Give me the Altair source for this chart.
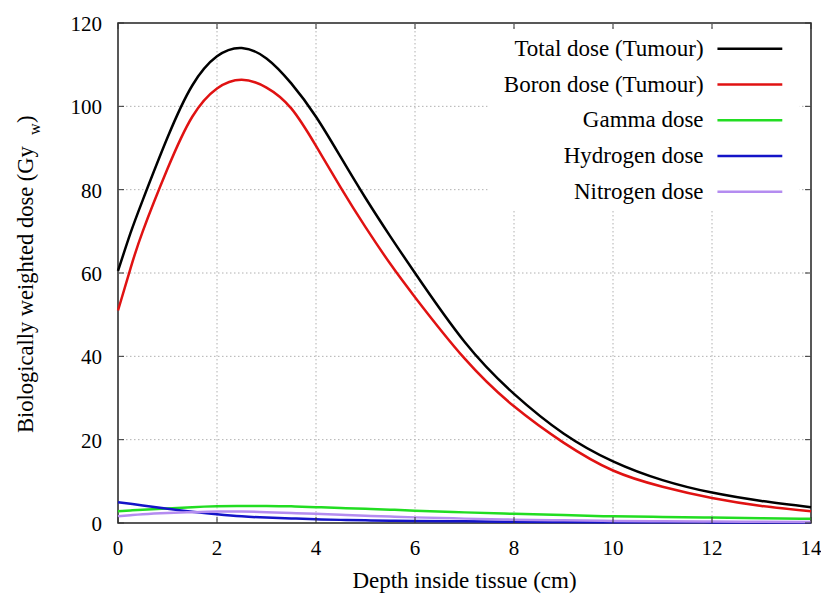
import altair as alt
import pandas as pd

# ---- data ----
DEPTH = [0, 0.25, 0.5, 1, 1.5, 2, 2.5, 3, 3.5, 4, 4.5, 5, 5.5, 6, 7, 8, 9, 10, 11, 12, 13, 14]
TOTAL = [60.5, 69.5, 77.5, 92.5, 105, 112, 114, 111.5, 105.5, 97.5, 87.8, 78, 68.8, 60, 43.5, 31, 21.5, 14.8, 10.3, 7.3, 5.3, 3.8]
BORON = [51, 61, 70, 85, 97.5, 104.3, 106.4, 104.5, 99.5, 90.5, 80.5, 71, 62.2, 54.2, 39.5, 28, 19.3, 12.6, 8.7, 6.0, 4.1, 2.8]
GAMMA = [2.8, 3.0, 3.2, 3.5, 3.8, 4.0, 4.1, 4.1, 4.0, 3.8, 3.6, 3.4, 3.2, 2.95, 2.55, 2.2, 1.9, 1.6, 1.45, 1.3, 1.15, 1.0]
HYDROGEN = [5.0, 4.6, 4.2, 3.4, 2.7, 2.1, 1.6, 1.3, 1.1, 0.9, 0.75, 0.65, 0.55, 0.5, 0.4, 0.3, 0.25, 0.2, 0.18, 0.15, 0.12, 0.1]
NITROGEN = [1.6, 1.85, 2.1, 2.4, 2.6, 2.75, 2.75, 2.6, 2.4, 2.2, 2.0, 1.75, 1.55, 1.35, 1.05, 0.8, 0.65, 0.5, 0.4, 0.35, 0.3, 0.25]

SERIES = ["Total dose (Tumour)", "Boron dose (Tumour)", "Gamma dose", "Hydrogen dose", "Nitrogen dose"]
COLORS = ["#000000", "#e01212", "#22dd22", "#1414c8", "#b48cf0"]
X_TICKS = [0, 2, 4, 6, 8, 10, 12, 14]
Y_TICKS = [0, 20, 40, 60, 80, 100, 120]

X_TITLE = "Depth inside tissue (cm)"
Y_TITLE_MAIN = "Biologically weighted dose (Gy"
Y_TITLE_SUB = "w"
Y_TITLE_END = ")"

# ---- tables ----
rows = []
for name, vals in zip(SERIES, [TOTAL, BORON, GAMMA, HYDROGEN, NITROGEN]):
    for d, v in zip(DEPTH, vals):
        rows.append({"series": name, "depth": d, "dose": v})
df = pd.DataFrame(rows)

W, H = 693, 500
FONT = "Liberation Serif"
XMIN, XMAX, YMIN, YMAX = 0, 14, 0, 120

# legend placed inside the plot (data coordinates)
LEG_TOP, LEG_STEP = 113.8, 8.57
leg = pd.DataFrame({
    "series": SERIES,
    "y": [LEG_TOP - i * LEG_STEP for i in range(len(SERIES))],
    "xt": [11.83] * len(SERIES),
    "x0": [12.11] * len(SERIES),
    "x1": [13.42] * len(SERIES),
})
legbox = pd.DataFrame({"x0": [7.47], "x1": [13.77], "y0": [75.2], "y1": [118.4]})

# inward tick marks on all four sides (6 px long)
TL_X = 6 * (XMAX - XMIN) / W
TL_Y = 6 * (YMAX - YMIN) / H
tick_rows = []
for t in X_TICKS:
    tick_rows.append({"x": t, "x2": t, "y": YMIN, "y2": YMIN + TL_Y})
    tick_rows.append({"x": t, "x2": t, "y": YMAX, "y2": YMAX - TL_Y})
for t in Y_TICKS:
    tick_rows.append({"x": XMIN, "x2": XMIN + TL_X, "y": t, "y2": t})
    tick_rows.append({"x": XMAX, "x2": XMAX - TL_X, "y": t, "y2": t})
ticks = pd.DataFrame(tick_rows)

xt_df = pd.DataFrame({"v": X_TICKS, "lab": [str(t) for t in X_TICKS]})
yt_df = pd.DataFrame({"v": Y_TICKS, "lab": [str(t) for t in Y_TICKS]})
xgrid = pd.DataFrame({"v": [t for t in X_TICKS if XMIN < t < XMAX]})
ygrid = pd.DataFrame({"v": [t for t in Y_TICKS if YMIN < t < YMAX]})

xscale = alt.Scale(domain=[XMIN, XMAX], nice=False, zero=False)
yscale = alt.Scale(domain=[YMIN, YMAX], nice=False, zero=False)
color = alt.Color("series:N", scale=alt.Scale(domain=SERIES, range=COLORS), legend=None)

GRID = dict(color="#b0b0b0", strokeWidth=1, strokeDash=[1.5, 2.5])

grid_x = alt.Chart(xgrid).mark_rule(**GRID).encode(
    x=alt.X("v:Q", scale=xscale, axis=None), y=alt.value(0), y2=alt.value(H))
grid_y = alt.Chart(ygrid).mark_rule(**GRID).encode(
    y=alt.Y("v:Q", scale=yscale, axis=None), x=alt.value(0), x2=alt.value(W))

lines = alt.Chart(df).mark_line(interpolate="natural", strokeWidth=2.5).encode(
    x=alt.X("depth:Q", scale=xscale, axis=None),
    y=alt.Y("dose:Q", scale=yscale, axis=None),
    color=color,
)

box = alt.Chart(legbox).mark_rect(fill="white").encode(
    x=alt.X("x0:Q", scale=xscale, axis=None),
    x2="x1:Q",
    y=alt.Y("y0:Q", scale=yscale, axis=None),
    y2="y1:Q",
)

tick_marks = alt.Chart(ticks).mark_rule(color="#333333", strokeWidth=1).encode(
    x=alt.X("x:Q", scale=xscale, axis=None),
    x2="x2:Q",
    y=alt.Y("y:Q", scale=yscale, axis=None),
    y2="y2:Q",
)

leg_rules = alt.Chart(leg).mark_rule(strokeWidth=2.5).encode(
    x=alt.X("x0:Q", scale=xscale, axis=None),
    x2="x1:Q",
    y=alt.Y("y:Q", scale=yscale, axis=None),
    color=color,
)

leg_text = alt.Chart(leg).mark_text(align="right", baseline="middle", font=FONT, fontSize=23,
                                     color="black").encode(
    x=alt.X("xt:Q", scale=xscale, axis=None),
    y=alt.Y("y:Q", scale=yscale, axis=None),
    text="series:N",
)

x_labels = alt.Chart(xt_df).mark_text(align="center", baseline="alphabetic", font=FONT, fontSize=21,
                                      color="black").encode(
    x=alt.X("v:Q", scale=xscale, axis=None), y=alt.value(H + 31.5), text="lab:N")
y_labels = alt.Chart(yt_df).mark_text(align="right", baseline="alphabetic", font=FONT, fontSize=21,
                                      color="black", dy=8).encode(
    y=alt.Y("v:Q", scale=yscale, axis=None), x=alt.value(-16), text="lab:N")

one = pd.DataFrame({"k": [0]})
x_title = alt.Chart(one).mark_text(text=X_TITLE, align="center", baseline="alphabetic",
                                   font=FONT, fontSize=23, color="black").encode(
    x=alt.value(W / 2), y=alt.value(H + 65))
yt_main = alt.Chart(one).mark_text(text=Y_TITLE_MAIN, angle=270, align="left", baseline="alphabetic",
                                   font=FONT, fontSize=22.5, color="black").encode(
    x=alt.value(-85), y=alt.value(410))
yt_sub = alt.Chart(one).mark_text(text=Y_TITLE_SUB, angle=270, align="left", baseline="alphabetic",
                                  font=FONT, fontSize=16, color="black").encode(
    x=alt.value(-78), y=alt.value(112))
yt_end = alt.Chart(one).mark_text(text=Y_TITLE_END, angle=270, align="left", baseline="alphabetic",
                                  font=FONT, fontSize=22.5, color="black").encode(
    x=alt.value(-85), y=alt.value(100))

chart = alt.layer(grid_x, grid_y, lines, box, tick_marks, leg_rules, leg_text,
                  x_labels, y_labels, x_title, yt_main, yt_sub, yt_end).properties(
    width=W, height=H,
    background="white",
    autosize=alt.AutoSizeParams(type="none"),
    padding={"left": 110, "top": 15, "right": 10, "bottom": 71},
).configure_view(stroke="#222222", strokeWidth=1.5)

chart.save("out.html", embed_options={"renderer": "svg", "actions": False})
